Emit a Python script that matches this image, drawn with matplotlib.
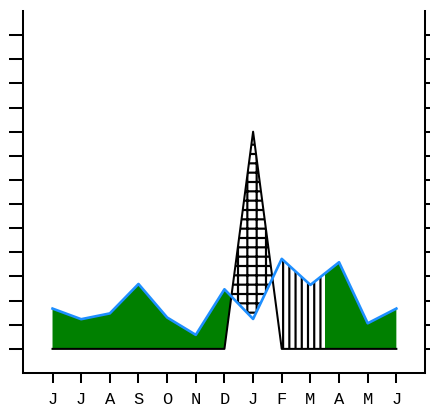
import numpy as np
import matplotlib
matplotlib.use('Agg')
from matplotlib import pyplot as plt
from matplotlib.patches import Rectangle


months = ['J', 'J', 'A', 'S', 'O', 'N', 'D', 'J', 'F', 'M', 'A', 'M', 'J']
peak = [0, 0, 0, 0, 0, 0, 0, 9, 0, 0, 0, 0, 0]
level = [1.67, 1.23, 1.47, 2.69, 1.3, 0.58, 2.47, 1.24, 3.73, 2.65, 3.59, 1.06, 1.67]

x = np.arange(len(months))
peak = np.array(peak, dtype=float)
level = np.array(level)

plt.rcParams['font.family'] = ['Liberation Mono', 'DejaVu Sans Mono']
plt.rcParams['hatch.linewidth'] = 1.4

dpi = 112
fig = plt.figure(figsize=(430 / dpi, 407 / dpi), dpi=dpi)
ax = fig.add_axes([0.0535, 0.0835, 0.9349, 0.8894])


def clip_to(artist, x0, x1):
    box = Rectangle((x0, -5), x1 - x0, 30, transform=ax.transData)
    artist.set_clip_path(box)


above = level >= peak

# green where the level sits over the peak line, drawn in pieces
for x0, x1 in [(-1, 2.08), (2.08, 4.24), (4.24, 7.5), (9.5, 11.71), (11.71, 13)]:
    g = ax.fill_between(x, peak, level, where=above, interpolate=True,
                        facecolor='#008000', edgecolor='none', linewidth=0)
    clip_to(g, x0, x1)

# vertical hatching for the early spring stretch
v = ax.fill_between(x, peak, level, where=above, interpolate=True,
                    facecolor='none', edgecolor='black', hatch='|||', linewidth=0)
clip_to(v, 8, 9.5)

# cross hatching where the peak line is on top
ax.fill_between(x, peak, level, where=~above, interpolate=True,
                facecolor='none', edgecolor='black', hatch='++', linewidth=0)

ax.plot(x, peak, color='black', linewidth=1.3)
ax.plot(x, level, color='#1e8fff', linewidth=1.7)

ax.set_xlim(-1.03, 13)
ax.set_ylim(-1, 14)
ax.set_xticks(x)
ax.set_xticklabels(months, fontsize=11)
ax.set_yticks(np.arange(0, 14))
ax.tick_params(axis='y', which='both', left=True, right=True,
               labelleft=False, labelright=False, length=9, width=1.3, direction='out')
ax.tick_params(axis='x', length=6.4, width=1.3, pad=6, direction='out')

ax.spines['top'].set_visible(False)
for side in ['left', 'right', 'bottom']:
    ax.spines[side].set_linewidth(1.3)

fig.savefig('out.png', dpi=dpi)
